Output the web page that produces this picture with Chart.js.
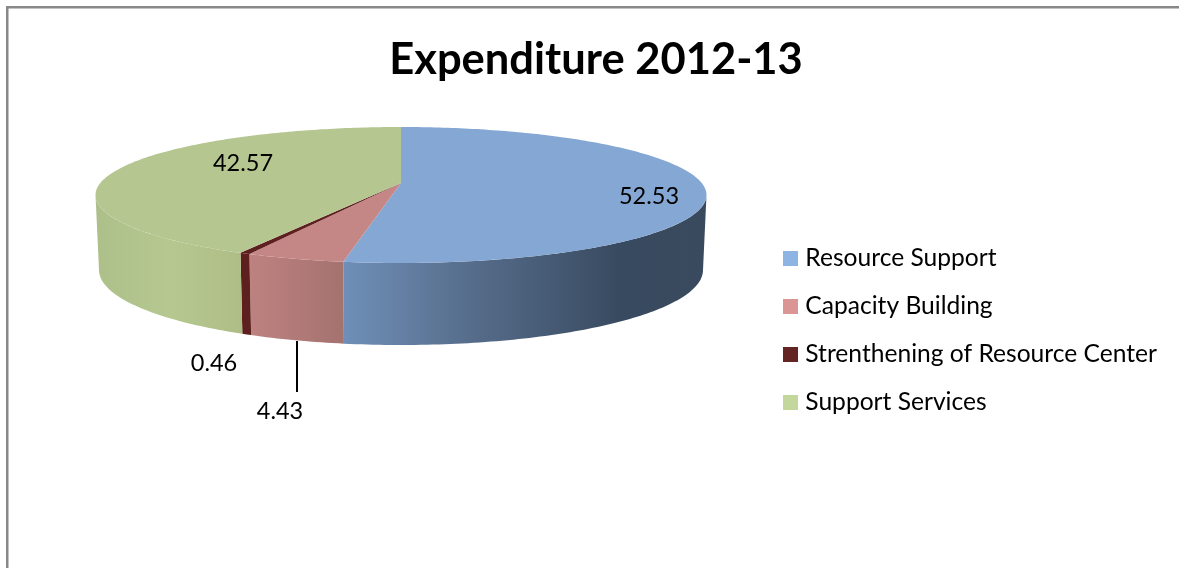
<!DOCTYPE html>
<html>
<head>
<meta charset="utf-8">
<title>Expenditure 2012-13</title>
<script src="https://cdn.jsdelivr.net/npm/chart.js@4"></script>
<style>
    html, body { margin: 0; padding: 0; background: #fff; overflow: hidden; }
    canvas { display: block; }
</style>
</head>
<body>
<canvas id="myChart" width="1179" height="568"></canvas>
<script>
const categorias = ['Resource Support', 'Capacity Building', 'Strenthening of Resource Center', 'Support Services'];
const valores = [52.53, 4.43, 0.46, 42.57];

// colours: top face, legend swatch, wall gradient stops (left to right)
const coloresTapa = ['#85a7d4', '#c58786', '#5e1f1f', '#b5c690'];
const coloresLeyenda = ['#8eb4e3', '#d99694', '#632523', '#c3d69b'];
const coloresPared = [
    [[344, '#6f8fb8'], [470, '#566d8b'], [620, '#384a60'], [706, '#3a4a5e']],
    [[250, '#bd8280'], [344, '#a4726f']],
    [[241, '#5e1f1f'], [252, '#5e1f1f']],
    [[96, '#adc08a'], [170, '#b6c890'], [243, '#aebd85']],
];

// where each value sits: centre of the text
const posEtiquetas = [[649, 196.6], [280, 411], [214, 363], [243, 163]];

// the pie is seen in perspective, so the circle goes through a projective map
const centroX = 401;
const centroY = 195;
const fuga = -0.176;
const tapa = { rx: 305.5, ry: 68, cy: centroY };
const base = { rx: 302, ry: 75, cy: 270 };

function proyectar(aro, theta) {
    const u = Math.sin(theta);
    const v = -Math.cos(theta);
    const d = 1 + fuga * v;
    const a = aro.rx * Math.sqrt(1 - fuga * fuga);
    return [centroX + a * u / d, aro.cy + (aro.ry * v + aro.ry * fuga) / d];
}

function trazarBorde(ctx, aro, desde, hasta) {
    const pasos = Math.max(2, Math.ceil(Math.abs(hasta - desde) * 60));
    for (let i = 0; i <= pasos; i++) {
        const p = proyectar(aro, desde + (hasta - desde) * i / pasos);
        ctx.lineTo(p[0], p[1]);
    }
}

const pie3d = {
    id: 'pie3d',
    beforeDraw(chart) {
        const ctx = chart.ctx;
        ctx.save();
        ctx.fillStyle = '#888888';
        ctx.fillRect(6, 6, 1173, 2.5);
        ctx.fillRect(6, 6, 2.5, 562);
        ctx.restore();
    },
    beforeDatasetsDraw(chart) {
        const ctx = chart.ctx;
        const arcos = chart.getDatasetMeta(0).data;
        // the wall only shows between the two silhouette points of the top rim
        const desdeVis = Math.PI - Math.acos(Math.abs(fuga));
        const hastaVis = Math.PI + Math.acos(Math.abs(fuga));
        ctx.save();

        // walls first
        arcos.forEach((arco, i) => {
            const ini = Math.max(arco.startAngle + Math.PI / 2, desdeVis);
            const fin = Math.min(arco.endAngle + Math.PI / 2, hastaVis);
            if (fin <= ini) return;
            const paradas = coloresPared[i];
            const x0 = paradas[0][0];
            const x1 = paradas[paradas.length - 1][0];
            const grad = ctx.createLinearGradient(x0, 0, x1, 0);
            paradas.forEach((p) => grad.addColorStop((p[0] - x0) / (x1 - x0), p[1]));
            ctx.fillStyle = grad;
            ctx.beginPath();
            trazarBorde(ctx, tapa, ini, fin);
            trazarBorde(ctx, base, fin, ini);
            ctx.closePath();
            ctx.fill();
        });

        // top face, with the apex at the projected centre
        const vertice = [centroX, tapa.cy + tapa.ry * fuga];
        arcos.forEach((arco, i) => {
            ctx.fillStyle = coloresTapa[i];
            ctx.beginPath();
            ctx.moveTo(vertice[0], vertice[1]);
            trazarBorde(ctx, tapa, arco.startAngle + Math.PI / 2, arco.endAngle + Math.PI / 2);
            ctx.closePath();
            ctx.fill();
        });

        // leader line of the small slice
        ctx.strokeStyle = '#000';
        ctx.lineWidth = 2;
        ctx.beginPath();
        ctx.moveTo(297, 341);
        ctx.lineTo(297, 392);
        ctx.stroke();

        ctx.fillStyle = '#000';
        ctx.font = '23.5px Lato';
        ctx.textAlign = 'center';
        ctx.textBaseline = 'middle';
        valores.forEach((v, i) => {
            ctx.fillText(v.toFixed(2), posEtiquetas[i][0], posEtiquetas[i][1]);
        });

        ctx.restore();
        return false;
    },
};

function muestra(color) {
    const c = document.createElement('canvas');
    c.width = 15;
    c.height = 15;
    const g = c.getContext('2d');
    g.fillStyle = color;
    g.fillRect(0, 0, 15, 15);
    return c;
}

new Chart(document.querySelector('#myChart'), {
    type: 'pie',
    data: {
        labels: categorias,
        datasets: [{ data: valores, backgroundColor: coloresTapa, borderWidth: 0 }],
    },
    options: {
        responsive: false,
        animation: false,
        layout: { padding: { left: 25, right: 12, top: 0, bottom: 130 } },
        plugins: {
            title: {
                display: true,
                text: 'Expenditure 2012-13',
                color: '#000',
                font: { family: 'Lato', size: 43.5, weight: 'bold' },
                padding: { top: 34, bottom: 10 },
            },
            legend: {
                position: 'right',
                align: 'end',
                labels: {
                    color: '#000',
                    font: { family: 'Lato', size: 24.6 },
                    padding: 23.4,
                    usePointStyle: true,
                    pointStyleWidth: 4.4,
                    generateLabels(chart) {
                        return Chart.overrides.pie.plugins.legend.labels.generateLabels(chart).map((l, i) => {
                            l.pointStyle = muestra(coloresLeyenda[i]);
                            return l;
                        });
                    },
                },
            },
            tooltip: { enabled: false },
        },
    },
    plugins: [pie3d],
});
</script>
</body>
</html>
